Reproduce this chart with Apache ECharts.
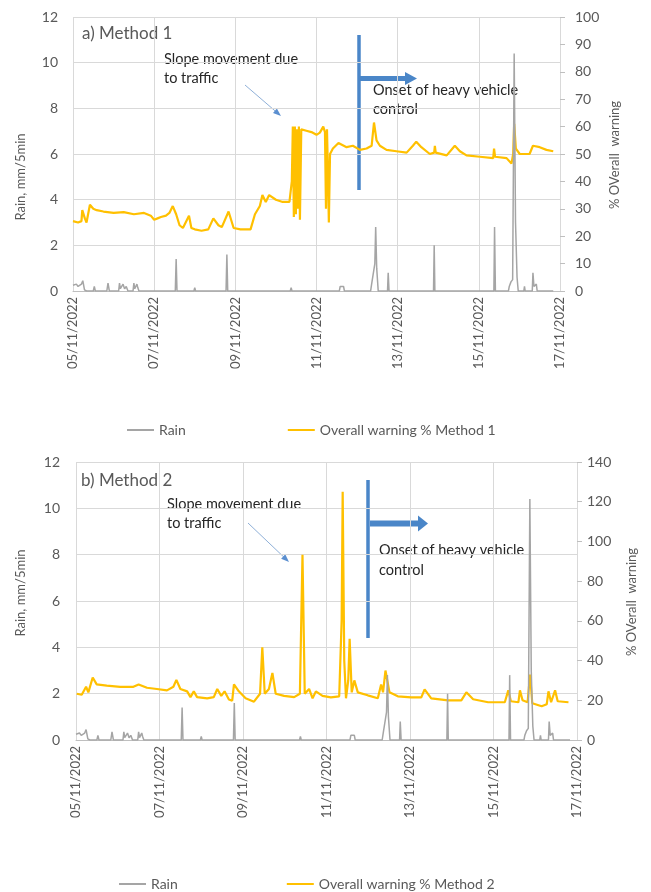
<!DOCTYPE html>
<html><head><meta charset="utf-8">
<script src="https://cdn.jsdelivr.net/npm/echarts@6/dist/echarts.min.js"></script>
<style>html,body{margin:0;padding:0;background:#fff}#c{width:651px;height:892px}</style>
</head><body><div id="c"></div>
<script>
// Hours since 05/11/2022 00:00
const xTickDates = ['05/11/2022','07/11/2022','09/11/2022','11/11/2022','13/11/2022','15/11/2022','17/11/2022'];

const rainHours = [0,1,2,3,4,5,5.8,6.8,8,12,12.6,13.2,20,20.7,21.5,27,27.5,28,29.6,30.5,31.5,32.5,35.5,36,36.5,37.8,38.3,39,60.5,61,61.5,71.5,72,72.5,90.5,91,91.5,128.5,129,129.5,157.5,158,160,160.5,176,176.6,177.5,178.5,179,179.6,180.5,186,186.4,186.9,213.2,213.6,214,248.9,249.3,249.8,257.5,258,259,260,260.9,261.7,262.6,263.3,266.6,267,267.4,271.6,272,272.6,274,274.5,284];
const rainMm    = [0.25,0.2,0.3,0.2,0.25,0.3,0.45,0.05,0,0,0.2,0,0,0.35,0,0,0.35,0.1,0.3,0.1,0.2,0,0,0.35,0.1,0.3,0.15,0,0,1.4,0,0,0.15,0,0,1.6,0,0,0.15,0,0,0.2,0.2,0,0,0.3,0.3,1.2,2.8,1.0,0,0,0.8,0,0,2.0,0,0,2.8,0,0,0.2,0.4,0.5,10.4,3.0,0.6,0,0,0.2,0,0,0.8,0.2,0.3,0,0];

const warn1Hours = [0,3,5,5.5,7,8,10,12,14,18,24,30,36,42,46,48,50,52,55,57,59,61,63,65,66,68.6,70,72,76,80,83,86,88,92,95,99,105,107.6,110.5,112,114,116,120,124,128,129.4,130,130.6,131.2,131.8,132.4,133,133.6,134.2,135,138,141,144,146,148,149,149.6,150.2,150.7,151.3,152,153,153.7,157,161.8,165.5,169.7,173.6,176.6,178,179.5,181.5,185.4,191.3,197.3,201,203,206,211,213.6,214,214.5,221,225.8,228.8,232.7,240.6,248.5,249,249.6,256.4,259.3,260.3,260.9,261.9,264.2,270,272,276,280,284];
const warn1Pct   = [25.5,25,25.5,29.5,26.5,25,31.5,30,29.5,29,28.5,28.8,28,28.5,27.5,26,26.5,27,27.5,28.5,31,28,24,23,22.5,27.5,23,22.5,22,22.5,26.5,24,23.3,29,23,22.5,22.5,28,31,35,32.5,35,33.3,32.5,32.5,40,60,27,60,28,59,30,60,26,59,58.5,58,57,57.8,60,58,30,59,45,25,50,50,52,54,52.5,53,51.5,52,53,61.5,55,53,51.5,51,50.5,53,54.5,52.5,50,50.5,53,50.5,49.5,53,51,49.5,49,48.5,52,49,48.5,46.5,50,61,52,50,50,53,52.5,51.5,51];

const warn2Hours = [0.4,3.3,5.8,7.1,9.6,11.9,17.7,25.4,33,36,40.8,46.5,52.3,56,57.7,60,63.9,65.8,67.7,69.6,75.4,79.2,81.2,83.5,85.4,87.9,89.8,90.8,93.6,97.5,102.3,105.8,107.1,108.5,110.9,112.9,114.8,119.6,125.4,128.7,130.2,131.5,134,136,137.9,141.7,146.5,151.3,152.7,153.3,154.2,155.2,156.5,157.3,158.5,160,162,167.7,173.5,175.4,176.5,177.9,180.2,185,192.7,198.5,200.4,204.2,213.9,221.5,224.4,228.3,236.9,246.5,248.5,250,254.3,255.2,256.7,259.6,261,262.3,267.7,270.6,271.6,273.1,275.4,276.9,283.1];
const warn2Pct   = [23.3,22.8,26.8,24,31.5,28,27.4,26.8,26.8,28,26.3,25.7,25,26.8,30.3,25.7,24.5,21.6,24.5,21.6,21,21.6,25.7,22.2,24.5,20.4,19.8,28,24.5,21,19.3,23.3,46.7,23.3,25.7,33.8,23.3,22.2,21.6,23.3,93.3,23.3,25.7,21,24.5,22.2,21.5,22,60,125,40,21,30,51,24,30,24,22.5,21,28,24,35,24,22,21.5,21.5,25.5,21,20,20,24,20.5,19,19,25,19.5,19,25,20,19,33,18.5,17,18,24.5,19,25,19.5,19];

const zip = (a, b) => a.map((v, i) => [v, b[i]]);
const GRAY_TXT = '#595959', GRID = '#d9d9d9', FONT = 'Lato, "Open Sans", sans-serif';
const BLUE = '#4a86c8', ARROW = '#8fb0d8';

function xAxis(gi) {
  return {
    type: 'value', gridIndex: gi, min: 0, max: 288, interval: 48,
    axisLine: { show: true, lineStyle: { color: '#bfbfbf' } },
    axisTick: { show: false },
    splitLine: { show: true, lineStyle: { color: GRID, width: 1 } },
    axisLabel: { rotate: 90, margin: 6, color: GRAY_TXT, fontSize: 13, fontFamily: FONT,
      formatter: v => xTickDates[Math.round(v / 48)] }
  };
}
function yLeft(gi, margin) {
  return { type: 'value', gridIndex: gi, position: 'left', min: 0, max: 12, interval: 2,
    axisLine: { show: false }, axisTick: { show: false },
    splitLine: { show: true, lineStyle: { color: GRID, width: 1 } },
    axisLabel: { color: GRAY_TXT, fontSize: 14, fontFamily: FONT, margin: margin } };
}
function yRight(gi, max, interval, margin) {
  return { type: 'value', gridIndex: gi, position: 'right', min: 0, max: max, interval: interval,
    axisLine: { show: false },
    axisTick: { show: true, length: 5, lineStyle: { color: '#bfbfbf' } },
    splitLine: { show: false },
    axisLabel: { color: GRAY_TXT, fontSize: 14, fontFamily: FONT, margin: margin } };
}
function arrowHead(x1, y1, x2, y2, len, half) {
  const dx = x2 - x1, dy = y2 - y1, L = Math.hypot(dx, dy);
  const ux = dx / L, uy = dy / L, bx = x2 - ux * len, by = y2 - uy * len;
  return [[x2, y2], [bx - uy * half, by + ux * half], [bx + uy * half, by - ux * half]];
}
function slopeArrow(x1, y1, x2, y2) {
  return [
    { type: 'line', shape: { x1, y1, x2: x2 - (x2 - x1) * 0.12, y2: y2 - (y2 - y1) * 0.12 }, style: { stroke: ARROW, lineWidth: 1 } },
    { type: 'polygon', shape: { points: arrowHead(x1, y1, x2, y2, 8, 3) }, style: { fill: '#5b8fd0' } }
  ];
}
function txt(x, y, s, size, color) {
  return { type: 'text', x, y, style: { text: s, fontSize: size, fill: color, fontFamily: FONT } };
}
function vtxt(x, y, s) {
  return { type: 'text', x, y, rotation: Math.PI / 2,
    style: { text: s, fontSize: 13, fill: GRAY_TXT, fontFamily: FONT, align: 'center', verticalAlign: 'middle' } };
}
function blockArrow(x0, xs, xt, yc, hs, hh) {
  return { type: 'polygon', shape: { points: [[x0, yc - hs], [xs, yc - hs], [xs, yc - hh], [xt, yc], [xs, yc + hh], [xs, yc + hs], [x0, yc + hs]] },
    style: { fill: BLUE } };
}

const chart = echarts.init(document.getElementById('c'), null, { renderer: 'canvas' });
chart.setOption({
  animation: false,
  backgroundColor: '#fff',
  grid: [
    { left: 73, top: 17, width: 487, height: 274 },
    { left: 76, top: 462, width: 501, height: 278 }
  ],
  xAxis: [xAxis(0), xAxis(1)],
  yAxis: [yLeft(0, 15), yRight(0, 100, 10, 15), yLeft(1, 16), yRight(1, 140, 20, 10)],
  legend: [
    { left: 127, top: 423, padding: 0, itemWidth: 27, itemHeight: 2, itemGap: 102, icon: 'rect',
      data: ['Rain', 'Overall warning % Method 1'],
      textStyle: { color: GRAY_TXT, fontSize: 14, fontFamily: FONT } },
    { left: 119, top: 877, padding: 0, itemWidth: 27, itemHeight: 2, itemGap: 109, icon: 'rect',
      data: ['Rain', 'Overall warning % Method 2'],
      textStyle: { color: GRAY_TXT, fontSize: 14, fontFamily: FONT } }
  ],
  series: [
    { name: 'Overall warning % Method 1', type: 'line', xAxisIndex: 0, yAxisIndex: 1, data: zip(warn1Hours, warn1Pct),
      showSymbol: false, symbol: 'none', color: '#ffc000', lineStyle: { width: 2.2, color: '#ffc000' }, z: 2 },
    { name: 'Rain', type: 'line', xAxisIndex: 0, yAxisIndex: 0, data: zip(rainHours, rainMm),
      showSymbol: false, symbol: 'none', color: '#a5a5a5', lineStyle: { width: 1.5, color: '#a5a5a5' }, z: 3 },
    { name: 'Overall warning % Method 2', type: 'line', xAxisIndex: 1, yAxisIndex: 3, data: zip(warn2Hours, warn2Pct),
      showSymbol: false, symbol: 'none', color: '#ffc000', lineStyle: { width: 2.2, color: '#ffc000' }, z: 2 },
    { name: 'Rain', type: 'line', xAxisIndex: 1, yAxisIndex: 2, data: zip(rainHours, rainMm),
      showSymbol: false, symbol: 'none', color: '#a5a5a5', lineStyle: { width: 1.5, color: '#a5a5a5' }, z: 3 }
  ],
  graphic: [
    vtxt(21, 177, 'Rain, mm/5min'),
    vtxt(615, 155, '% OVerall  warning'),
    vtxt(21, 593, 'Rain, mm/5min'),
    vtxt(632, 602, '% OVerall  warning'),
    txt(82, 25, 'a) Method 1', 17, GRAY_TXT),
    txt(81, 472, 'b) Method 2', 17, GRAY_TXT),
    txt(164, 52, 'Slope movement due', 14.5, '#262626'),
    txt(164, 71, 'to traffic', 14.5, '#262626'),
    ...slopeArrow(245, 85, 281, 116),
    txt(167, 497, 'Slope movement due', 14.5, '#262626'),
    txt(167, 516, 'to traffic', 14.5, '#262626'),
    ...slopeArrow(248, 523, 289, 562),
    { type: 'line', shape: { x1: 359, y1: 35, x2: 359, y2: 190 }, style: { stroke: BLUE, lineWidth: 3.5 } },
    blockArrow(360, 405, 417, 78.5, 2.6, 6.5),
    txt(373, 83, 'Onset of heavy vehicle', 14.5, '#262626'),
    txt(373, 102, 'control', 14.5, '#262626'),
    { type: 'line', shape: { x1: 368, y1: 480, x2: 368, y2: 638 }, style: { stroke: BLUE, lineWidth: 3.5 } },
    blockArrow(370, 418, 428, 523.5, 3, 8),
    txt(379, 543, 'Onset of heavy vehicle', 14.5, '#262626'),
    txt(379, 563, 'control', 14.5, '#262626')
  ]
});
</script></body></html>
